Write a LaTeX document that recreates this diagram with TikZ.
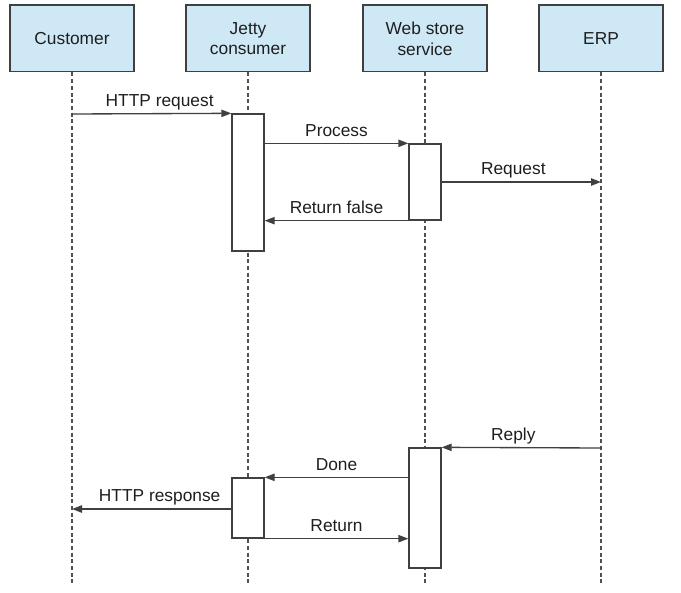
\documentclass[tikz,border=0pt]{standalone}
\usepackage{fontspec}
\setmainfont{Liberation Sans}
\usetikzlibrary{arrows.meta,calc}
\definecolor{boxfill}{HTML}{CFE8F6}
\definecolor{linec}{HTML}{404040}
\definecolor{lifec}{HTML}{505050}
\definecolor{textc}{HTML}{1E1E1E}
\begin{document}
\begin{tikzpicture}[x=0.75pt,y=-0.75pt,
  header/.style={draw=linec, fill=boxfill, line width=1pt, minimum width=93pt, minimum height=50pt, inner sep=0pt, align=center, font=\fontsize{13}{15.5}\selectfont, text=textc},
  actbox/.style={draw=linec, fill=white, line width=1pt, minimum width=24pt, inner sep=0pt},
  lifeline/.style={draw=lifec, line width=0.9pt, dash pattern=on 3pt off 2pt},
  msg/.style={draw=linec, line width=1pt, -{Triangle[length=7.5pt,width=5.5pt]}},
  lbl/.style={anchor=base, font=\fontsize{13}{15.5}\selectfont, text=textc, inner sep=0pt, yshift=5.5pt}
]
\useasboundingbox (0,0) rectangle (681,592);
% headers
\node[header] (cust) at (72,38.5) {Customer};
\node[header] (jetty) at (248,38.5) {Jetty\\consumer};
\node[header] (web) at (425,38.5) {Web store\\service};
\node[header] (erp) at (601,38.5) {ERP};
% lifeline ends
\coordinate (custend) at (72,585);
\coordinate (jettyend) at (248,585);
\coordinate (webend) at (425,585);
\coordinate (erpend) at (601,585);
\draw[lifeline] (cust.south) -- (custend);
\draw[lifeline] (jetty.south) -- (jettyend);
\draw[lifeline] (web.south) -- (webend);
\draw[lifeline] (erp.south) -- (erpend);
% activation boxes
\node[actbox, minimum height=102.75pt] (a1) at (248,182.5) {};
\node[actbox, minimum height=57pt] (a2) at (425,182) {};
\node[actbox, minimum height=90pt] (a3) at (425,508) {};
\node[actbox, minimum height=45pt] (a4) at (248,508) {};
% message points
\coordinate (c1) at (72,114);
\coordinate (e1) at (601,182);
\coordinate (e2) at (601,448);
\coordinate (c2) at (72,509);
% messages
\draw[msg] (c1) -- node[lbl, xshift=6pt]{HTTP request} (a1.north west);
\draw[msg] (a1.east |- a2.north west) -- node[lbl]{Process} (a2.north west);
\draw[msg] (a2.east |- e1) -- node[lbl, xshift=-6pt]{Request} (e1);
\draw[msg] (a2.south west) -- node[lbl]{Return false} (a1.east |- a2.south west);
\draw[msg] (e2) -- node[lbl, xshift=-6pt]{Reply} (a3.north east);
\draw[msg] (a3.west |- a4.north east) -- node[lbl]{Done} (a4.north east);
\draw[msg] (a4.west |- c2) -- node[lbl, xshift=6pt]{HTTP response} (c2);
\draw[msg] (a4.south east) -- node[lbl]{Return} (a3.west |- a4.south east);
\end{tikzpicture}
\end{document}
